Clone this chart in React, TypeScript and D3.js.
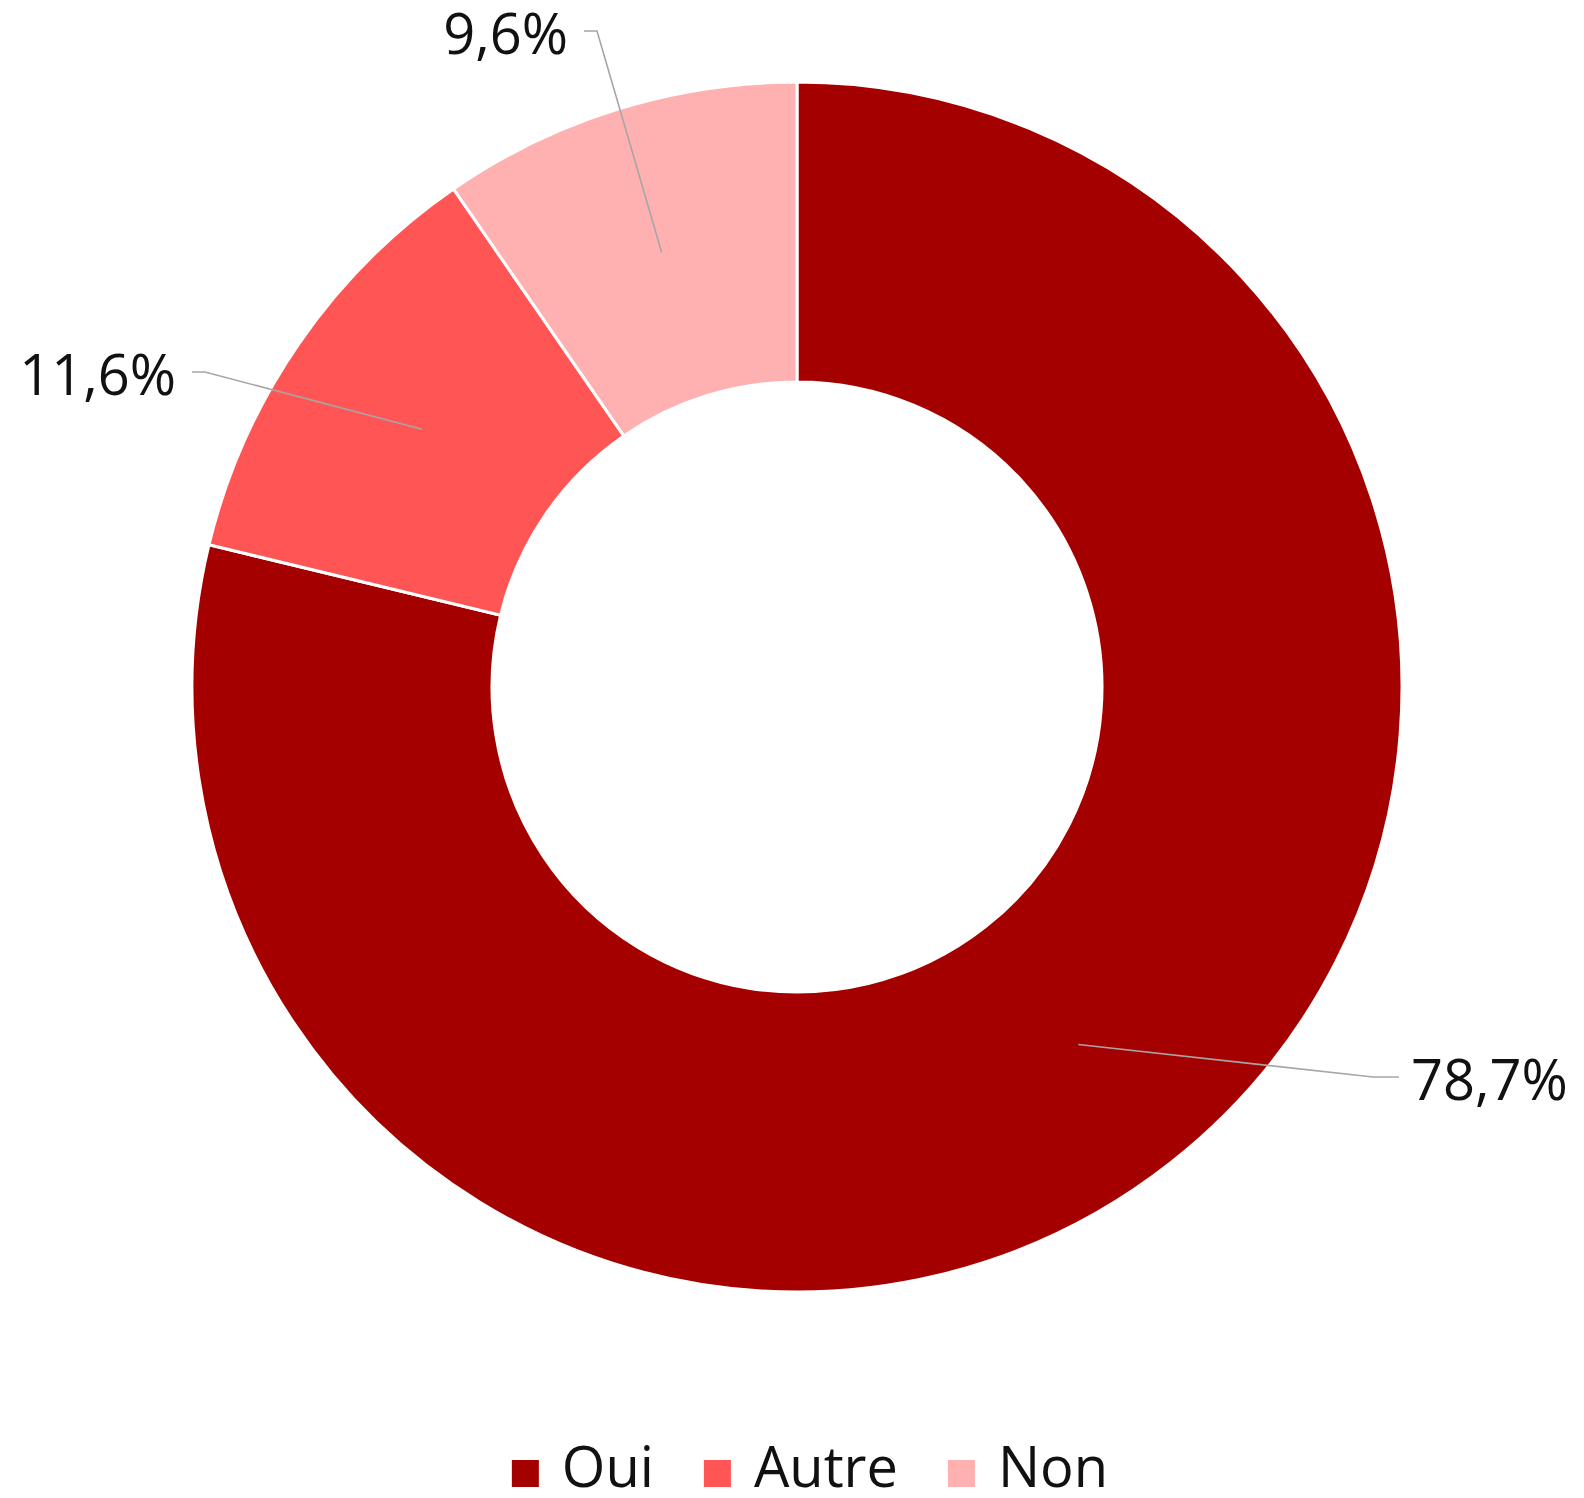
import React, { useRef, useEffect } from 'react';
import * as d3 from 'd3';

// chart values
const categories = ['Oui', 'Autre', 'Non'];
const values = [78.7, 11.6, 9.6];
const labels = ['78,7%', '11,6%', '9,6%'];
const colors = ['#a50000', '#ff5555', '#ffb1b1'];

// where each leader line meets its label (relative to chart centre), and which side
const labelAnchors: [number, number, 'start' | 'end'][] = [
  [602, 390, 'start'],
  [-605, -315, 'end'],
  [-213, -656, 'end'],
];

const width = 1584;
const height = 1498;
const cx = 797;
const cy = 687;
const outerR = 605;
const innerR = 305;

const App = () => {
  const ref = useRef<SVGSVGElement>(null);

  useEffect(() => {
    document.body.style.margin = '0';
    const svg = d3.select(ref.current);
    svg.selectAll('*').remove();

    const font = '"Open Sans", "Noto Sans", sans-serif';
    const data = categories.map((c, i) => ({ name: c, value: values[i], label: labels[i], color: colors[i] }));

    const pie = d3.pie<any>().sort(null).value(d => d.value);
    const arcs = pie(data);
    const arc = d3.arc<any>().innerRadius(innerR).outerRadius(outerR);
    const mid = d3.arc<any>().innerRadius((innerR + outerR) / 2).outerRadius((innerR + outerR) / 2);

    const g = svg.append('g').attr('transform', `translate(${cx},${cy})`);

    g.selectAll('path.slice')
      .data(arcs)
      .join('path')
      .attr('class', 'slice')
      .attr('d', arc)
      .attr('fill', d => d.data.color)
      .attr('stroke', '#fff')
      .attr('stroke-width', 3)
      .attr('stroke-linejoin', 'miter');

    // leader lines
    g.selectAll('path.leader')
      .data(arcs)
      .join('path')
      .attr('class', 'leader')
      .attr('fill', 'none')
      .attr('stroke', '#a6a6a6')
      .attr('stroke-width', 1.6)
      .attr('d', (d, i) => {
        const [lx, ly, side] = labelAnchors[i];
        const [mx, my] = mid.centroid(d);
        const bend = side === 'end' ? lx + 13 : lx - 26;
        return d3.line()([[lx, ly], [bend, ly], [mx, my]]);
      });

    g.selectAll('text.lbl')
      .data(arcs)
      .join('text')
      .attr('class', 'lbl')
      .attr('x', (d, i) => labelAnchors[i][0] + (labelAnchors[i][2] === 'end' ? -16 : 12))
      .attr('y', (d, i) => labelAnchors[i][1] + 23)
      .attr('text-anchor', (d, i) => labelAnchors[i][2])
      .attr('font-family', font)
      .attr('font-size', 56)
      .attr('fill', '#111')
      .text(d => d.data.label);

    // legend
    const legend = svg.append('g');
    const items = legend.selectAll('g')
      .data(data)
      .join('g');
    items.append('rect')
      .attr('width', 27)
      .attr('height', 27)
      .attr('y', -27)
      .attr('fill', d => d.color);
    const texts = items.append('text')
      .attr('x', 50)
      .attr('font-family', font)
      .attr('font-size', 56)
      .attr('fill', '#111')
      .text(d => d.name);

    let x = 0;
    const offsets: number[] = [];
    texts.each(function () {
      offsets.push(x);
      x += 50 + (this as SVGTextElement).getComputedTextLength() + 50;
    });
    const total = x - 50;
    items.attr('transform', (d, i) => `translate(${offsets[i]},0)`);
    legend.attr('transform', `translate(${810 - total / 2},1487)`);
  }, []);

  return <svg ref={ref} width={width} height={height} style={{ display: 'block', background: '#fff' }} />;
};

export default App;
